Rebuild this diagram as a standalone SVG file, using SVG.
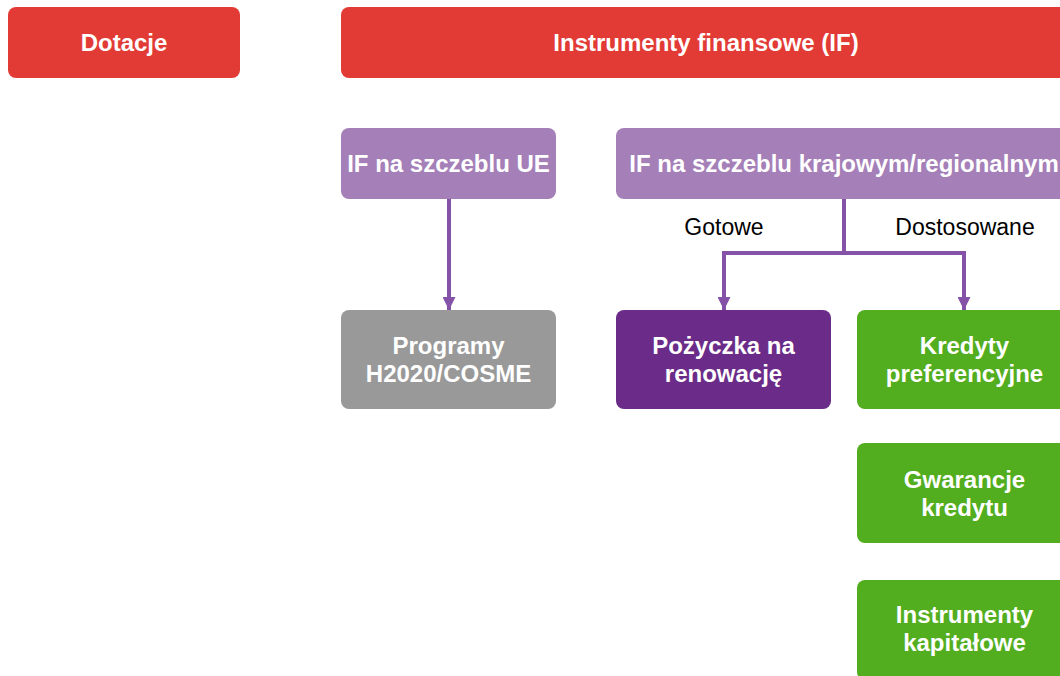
<svg xmlns="http://www.w3.org/2000/svg" width="1060" height="676" viewBox="0 0 1060 676">
<defs>
<style>
.b{font-family:"Liberation Sans",Arial,sans-serif;font-weight:bold;font-size:24px;fill:#fff;text-anchor:middle}
.l{font-family:"Liberation Sans",Arial,sans-serif;font-size:23px;fill:#000;text-anchor:middle}
.red{fill:#e23a35}
.lp{fill:#a57fb8}
.gr{fill:#999999}
.dp{fill:#6a2c88}
.gn{fill:#52ad1f}
.c{stroke:#8452a6;stroke-width:4;fill:none}
</style>
<marker id="ah" markerUnits="userSpaceOnUse" markerWidth="16" markerHeight="13" refX="16" refY="8" orient="auto" viewBox="0 0 16 16">
<path d="M0,0 L16,8 L0,16 Z" fill="#8452a6"/>
</marker>
</defs>
<g id="dotacje"><rect class="red" x="8" y="7" width="232" height="71" rx="8"/><text class="b" x="124" y="51">Dotacje</text></g>
<g id="if"><rect class="red" x="341" y="7" width="731" height="71" rx="8"/><text class="b" x="706" y="51">Instrumenty finansowe (IF)</text></g>
<g id="if-ue"><rect class="lp" x="341" y="128" width="215" height="71" rx="8"/><text class="b" x="448.5" y="172">IF na szczeblu UE</text></g>
<g id="if-kraj"><rect class="lp" x="616" y="128" width="456" height="71" rx="8"/><text class="b" x="844" y="172">IF na szczeblu krajowym/regionalnym</text></g>
<g id="programy"><rect class="gr" x="341" y="310" width="215" height="99" rx="8"/><text class="b" x="448.5" y="354">Programy</text><text class="b" x="448.5" y="382">H2020/COSME</text></g>
<g id="pozyczka"><rect class="dp" x="616" y="310" width="215" height="99" rx="8"/><text class="b" x="723.5" y="354">Pożyczka na</text><text class="b" x="723.5" y="382">renowację</text></g>
<g id="kredyty"><rect class="gn" x="857" y="310" width="215" height="99" rx="8"/><text class="b" x="964.5" y="354">Kredyty</text><text class="b" x="964.5" y="382">preferencyjne</text></g>
<g id="gwarancje"><rect class="gn" x="857" y="443" width="215" height="100" rx="8"/><text class="b" x="964.5" y="488">Gwarancje</text><text class="b" x="964.5" y="516">kredytu</text></g>
<g id="kapitalowe"><rect class="gn" x="857" y="580" width="215" height="100" rx="8"/><text class="b" x="964.5" y="623">Instrumenty</text><text class="b" x="964.5" y="651">kapitałowe</text></g>
<g id="connectors">
<path class="c" d="M449,199 V310" marker-end="url(#ah)"/>
<path class="c" d="M844,199 V253 H724 V310" marker-end="url(#ah)"/>
<path class="c" d="M844,253 H964 V310" marker-end="url(#ah)"/>
<text class="l" x="724" y="235">Gotowe</text>
<text class="l" x="965" y="235">Dostosowane</text>
</g>
</svg>
